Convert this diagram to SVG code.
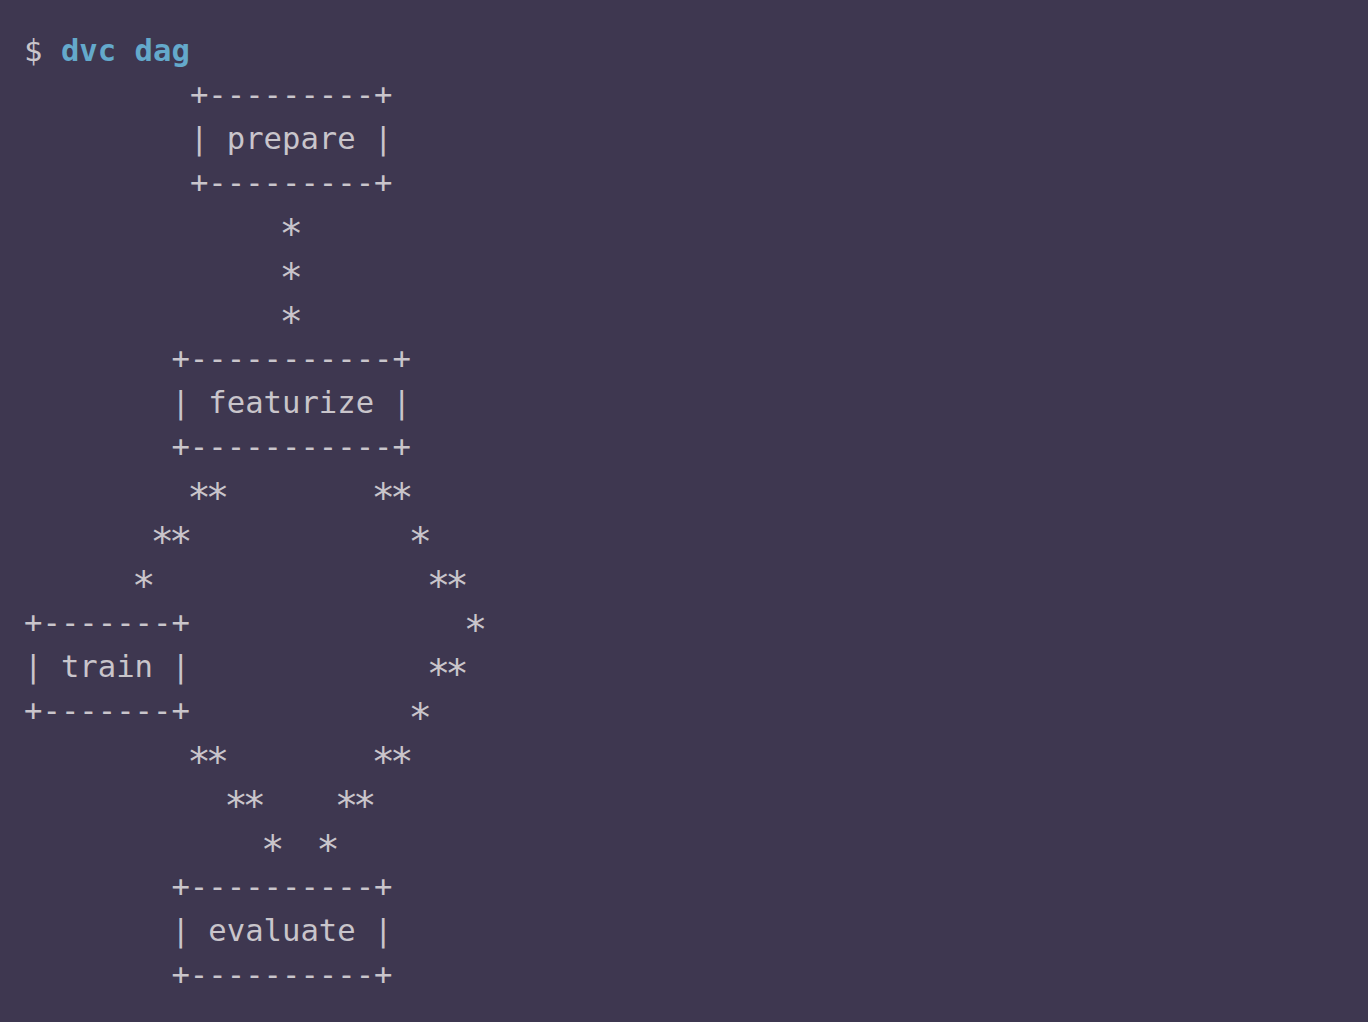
<svg xmlns="http://www.w3.org/2000/svg" width="1368" height="1022" viewBox="0 0 1368 1022">
<style>
text{font-family:"DejaVu Sans Mono","Liberation Mono",monospace;font-size:30.6px;fill:#c9c5cb;white-space:pre}
.cmd{fill:#64a9cb;font-weight:bold}
.s{font-size:39px;letter-spacing:-5.06px}
</style>
<rect width="1368" height="1022" fill="#3e3750"/>
<text x="24.1" y="60.5">$ <tspan class="cmd">dvc dag</tspan></text>
<g id="prepare">
<text x="189.88" y="104.53">+---------+</text>
<text x="189.88" y="148.56">| prepare |</text>
<text x="189.88" y="192.59">+---------+</text>
</g>
<g id="featurize">
<text x="171.46" y="368.71">+-----------+</text>
<text x="171.46" y="412.74">| featurize |</text>
<text x="171.46" y="456.77">+-----------+</text>
</g>
<g id="train">
<text x="24.1" y="632.89">+-------+</text>
<text x="24.1" y="676.92">| train |</text>
<text x="24.1" y="720.95">+-------+</text>
</g>
<g id="evaluate">
<text x="171.46" y="897.07">+----------+</text>
<text x="171.46" y="941.1">| evaluate |</text>
<text x="171.46" y="985.13">+----------+</text>
</g>
<g id="connectors">
<text class="s" x="279.44" y="246.62">*</text>
<text class="s" x="279.44" y="290.65">*</text>
<text class="s" x="279.44" y="334.68">*</text>
<text class="s" x="187.34" y="510.8">**</text>
<text class="s" x="371.54" y="510.8">**</text>
<text class="s" x="150.5" y="554.83">**</text>
<text class="s" x="408.38" y="554.83">*</text>
<text class="s" x="132.08" y="598.86">*</text>
<text class="s" x="426.8" y="598.86">**</text>
<text class="s" x="463.64" y="642.89">*</text>
<text class="s" x="426.8" y="686.92">**</text>
<text class="s" x="408.38" y="730.95">*</text>
<text class="s" x="187.34" y="774.98">**</text>
<text class="s" x="371.54" y="774.98">**</text>
<text class="s" x="224.18" y="819.01">**</text>
<text class="s" x="334.7" y="819.01">**</text>
<text class="s" x="261.02" y="863.04">*</text>
<text class="s" x="316.28" y="863.04">*</text>
</g>
</svg>
